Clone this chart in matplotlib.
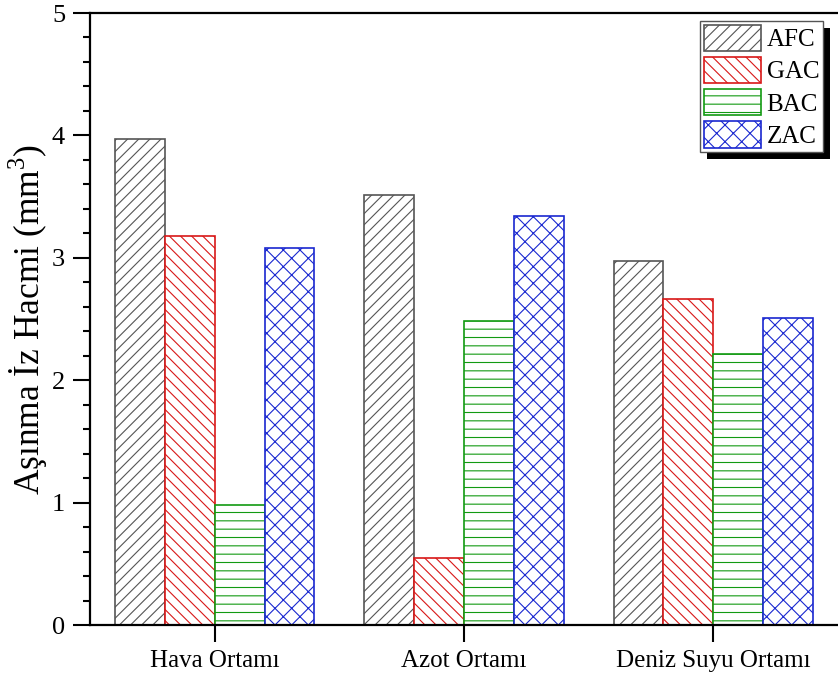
import matplotlib
matplotlib.use("Agg")
import matplotlib.pyplot as plt
import numpy as np
from matplotlib.patches import Rectangle

plt.rcParams['font.family'] = ['Liberation Serif', 'DejaVu Serif']
plt.rcParams['mathtext.fontset'] = 'custom'
plt.rcParams['mathtext.rm'] = 'Liberation Serif'
plt.rcParams['hatch.linewidth'] = 0.8

# Data
environments = ['Hava Ortamı', 'Azot Ortamı', 'Deniz Suyu Ortamı']
series = ['AFC', 'GAC', 'BAC', 'ZAC']
afc = [3.97, 3.51, 2.97]
gac = [3.18, 0.55, 2.66]
bac = [0.98, 2.48, 2.21]
zac = [3.08, 3.34, 2.51]
values = [afc, gac, bac, zac]

edge_colors = ['#555555', '#d81818', '#129a12', '#1a28d0']
hatches = ['///', '\\\\\\', '--', 'xx']

fig = plt.figure(figsize=(8.38, 6.77), dpi=100)
ax = fig.add_axes([90 / 838, 1 - 625 / 677, 1 - 90 / 838, (625 - 13) / 677])

x = np.arange(len(environments))
width = 0.2
for i, (name, vals) in enumerate(zip(series, values)):
    ax.bar(x + (i - 1.5) * width, vals, width, label=name,
           facecolor='white', edgecolor=edge_colors[i],
           hatch=hatches[i], linewidth=1.2, zorder=2)

ax.set_xlim(-0.5, 2.5)
ax.set_ylim(0, 5)
ax.set_xticks(x)
ax.set_xticklabels(environments, fontsize=18)
ax.set_yticks(np.arange(0, 6, 1))
ax.set_yticks(np.arange(0, 5.01, 0.2), minor=True)
ax.tick_params(axis='y', which='major', direction='out', length=12, width=1.5,
               labelsize=19, pad=6)
ax.tick_params(axis='y', which='minor', direction='out', length=5, width=1.5)
ax.tick_params(axis='x', which='major', direction='out', length=12, width=1.5,
               labelsize=18, pad=6)
ax.tick_params(axis='x', which='minor', bottom=False)

for side in ['left', 'bottom', 'top']:
    ax.spines[side].set_linewidth(1.6)
ax.spines['right'].set_visible(False)

ax.set_ylabel('Aşınma İz Hacmi (mm$^3$)', fontsize=25.5, labelpad=1)

leg = ax.legend(loc='upper right', bbox_to_anchor=((823 - 90) / 748, 1 - 8 / 612),
                fontsize=18, frameon=True, fancybox=False, framealpha=1,
                edgecolor='#555555', handlelength=2.28, handleheight=1.25,
                labelspacing=0.22, handletextpad=0.22, borderpad=0.15,
                borderaxespad=0.0)
leg.get_frame().set_linewidth(1.0)
leg.set_zorder(5)

# Solid black drop shadow behind the legend box
fig.canvas.draw()
bb = leg.get_window_extent()
inv = fig.transFigure.inverted()
(x0, y0), (x1, y1) = inv.transform([[bb.x0 + 7, bb.y0 - 7], [bb.x1 + 7, bb.y1 - 7]])
shadow = Rectangle((x0, y0), x1 - x0, y1 - y0, transform=fig.transFigure,
                   facecolor='black', edgecolor='none', zorder=4)
ax.add_artist(shadow)
shadow.set_clip_on(False)

fig.savefig('out.png', dpi=100)
